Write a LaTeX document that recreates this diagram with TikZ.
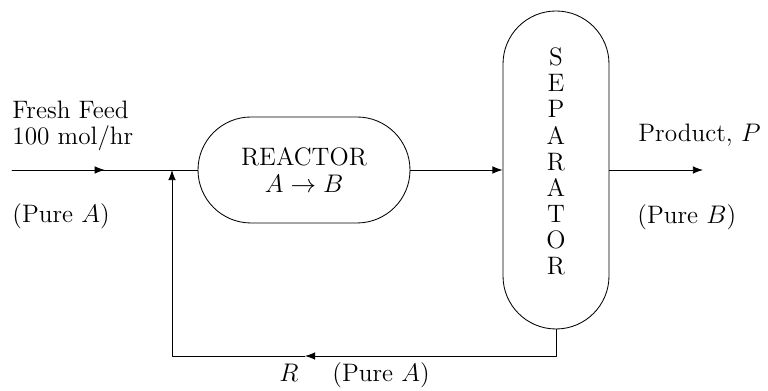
\documentclass[tikz,border=0pt]{standalone}
\usepackage{amsmath}
\usetikzlibrary{arrows.meta, decorations.markings}
\tikzset{
  >={Latex},
  every picture/.style={line cap=round, line join=round, font=\fontsize{11.9pt}{12.3pt}\selectfont},
  % process units: rectangles with fully rounded ends
  unit/.style={draw, rounded corners=25pt, inner sep=0pt, align=center},
  flow/.style={->},
  midflow/.style={decoration={markings, mark=at position 0.5 with {\arrow{Latex}}}, postaction={decorate}},
  lbl/.style={inner sep=0pt, align=left},
}

\begin{document}
\begin{tikzpicture}[x=0.4717pt, y=0.4717pt]
  \useasboundingbox (0,0) rectangle (768,391);
  % ---------------- units
  \node[unit, minimum width=100pt, minimum height=50pt] (reactor) at (304,221)
    {REACTOR\\$A \rightarrow B$};
  \node[unit, minimum width=50pt, minimum height=150pt] (sep) at (556,221) {};
  \node[lbl, align=center] (septxt) at ([yshift=4pt]sep.center)
    {S\\E\\P\\A\\R\\A\\T\\O\\R};
  % ---------------- streams
  \coordinate (feed) at (12,221);
  \coordinate (mix) at (172,221);
  \coordinate (prod) at (703,221);
  \coordinate (rtip) at (305,35);
  \draw[midflow] (feed) -- (reactor.west);
  \draw[flow] (reactor.east) -- (sep.west);
  \draw[flow] (sep.east) -- (prod);
  % recycle, back to the mixing point
  \draw[flow] (sep.south) |- (rtip);
  \draw[flow] (rtip) -| (mix);
  % ---------------- labels
  \node[lbl, anchor=north west] (feedtxt) at (12,290.5) {Fresh Feed\\100 mol/hr};
  \node[lbl, anchor=base west] (feedpure) at (12,168) {(Pure $A$)};
  \node[lbl, anchor=base west] (prodtxt) at (638,249) {Product, $P$};
  \node[lbl, anchor=base west] (prodpure) at (637,167) {(Pure $B$)};
  \node[lbl, anchor=base west] (rtxt) at (279,9.5) {$R$};
  \node[lbl, anchor=base west] (rpure) at (332,9.5) {(Pure $A$)};
\end{tikzpicture}
\end{document}
